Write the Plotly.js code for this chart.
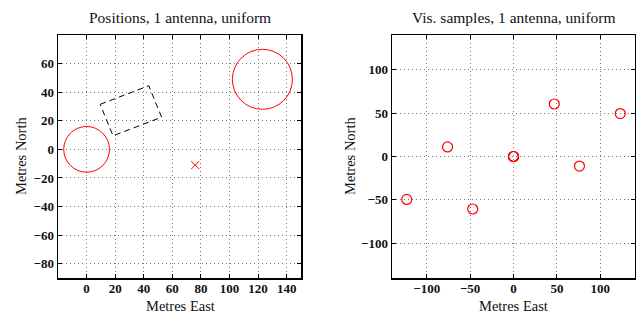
<!DOCTYPE html>
<html>
<head>
<meta charset="utf-8">
<script src="https://cdn.plot.ly/plotly-3.0.1.min.js"></script>
<style>html,body{margin:0;padding:0;background:#fff;}#chart{width:636px;height:313px;}</style>
</head>
<body>
<div id="chart"></div>
<script>
// ---- Data ----
// Antenna dishes (left plot): centres and radii in metres
const dishX = [0, 123];
const dishY = [0, 49];
const dishR = [16, 21];
// Single antenna position (red cross)
const crossX = [76];
const crossY = [-11];
// Dashed rectangle outline corners
const rectX = [9.5, 43.5, 52.5, 18.5, 9.5];
const rectY = [31.5, 44.5, 22.5, 9.5, 31.5];
// Visibility samples (right plot)
const visU = [0, 0, 0, 123, -123, 76, -76, 47, -47];
const visV = [0, 0, 0, 49.5, -49.5, -11, 11, 60.5, -60.5];
// Tick values
const leftXTicks = [0, 20, 40, 60, 80, 100, 120, 140];
const leftYTicks = [-80, -60, -40, -20, 0, 20, 40, 60];
const rightTicks = [-100, -50, 0, 50, 100];

const serif = "Liberation Serif, Times New Roman, serif";
const tickFont = {family: serif, size: 13, color: "#111", weight: "bold"};

function axisBase(domain, range, ticks, anchor, isX) {
  const ax = {
    domain: domain, range: range, anchor: anchor,
    tickmode: "array", tickvals: ticks,
    ticks: "inside", ticklen: 4, tickcolor: "#000",
    showline: true, linecolor: "#000", linewidth: 1.5, mirror: "ticks",
    showgrid: true, gridcolor: "#7a7a7a", gridwidth: 1, griddash: "1px,3px",
    zeroline: false, tickfont: tickFont, fixedrange: true
  };
  if (isX) ax.ticklabelstandoff = -2;
  return ax;
}

const traces = [
  {x: rectX, y: rectY, xaxis: "x", yaxis: "y", mode: "lines", type: "scatter",
   line: {color: "#000", width: 1, dash: "6px,4px"}, hoverinfo: "skip"},
  {x: crossX, y: crossY, xaxis: "x", yaxis: "y", mode: "markers", type: "scatter",
   marker: {symbol: "x-thin-open", size: 8, color: "#ff0000", line: {color: "#ff0000", width: 1}}},
  {x: visU, y: visV, xaxis: "x2", yaxis: "y2", mode: "markers", type: "scatter",
   marker: {symbol: "circle-open", size: 10, color: "#ff0000", line: {color: "#ff0000", width: 1.2}}}
];

const shapes = dishX.map((cx, i) => ({
  type: "circle", xref: "x", yref: "y",
  x0: cx - dishR[i], x1: cx + dishR[i], y0: dishY[i] - dishR[i], y1: dishY[i] + dishR[i],
  line: {color: "#ff0000", width: 1}
}));

const yDom = [1 - 278/313, 1 - 35/313];
const titleFont = {family: serif, size: 15.5, color: "#111"};
const labelFont = {family: serif, size: 14.5, color: "#111"};
const layout = {
  width: 636, height: 313,
  margin: {l: 0, r: 0, t: 0, b: 0},
  paper_bgcolor: "#fff", plot_bgcolor: "#fff",
  showlegend: false,
  xaxis: axisBase([58/636, 301/636], [-20, 150], leftXTicks, "y", true),
  yaxis: axisBase(yDom, [-90, 80], leftYTicks, "x", false),
  xaxis2: axisBase([392/636, 635/636], [-140, 140], rightTicks, "y2", true),
  yaxis2: axisBase(yDom, [-140, 140], rightTicks, "x2", false),
  shapes: shapes,
  annotations: [
    {text: "Positions, 1 antenna, uniform", xref: "paper", yref: "paper", x: 179.5/636, y: 1 - 17/313,
     showarrow: false, xanchor: "center", yanchor: "middle", font: titleFont},
    {text: "Vis. samples, 1 antenna, uniform", xref: "paper", yref: "paper", x: 513.5/636, y: 1 - 17/313,
     showarrow: false, xanchor: "center", yanchor: "middle", font: titleFont},
    {text: "Metres East", xref: "paper", yref: "paper", x: 180/636, y: 0,
     showarrow: false, xanchor: "center", yanchor: "bottom", yshift: -2, borderpad: 0, font: labelFont},
    {text: "Metres East", xref: "paper", yref: "paper", x: 513.5/636, y: 0,
     showarrow: false, xanchor: "center", yanchor: "bottom", yshift: -2, borderpad: 0, font: labelFont},
    {text: "Metres North", xref: "paper", yref: "paper", x: 21/636, y: 1 - 156/313, textangle: -90,
     showarrow: false, xanchor: "center", yanchor: "middle", font: labelFont},
    {text: "Metres North", xref: "paper", yref: "paper", x: 350/636, y: 1 - 156/313, textangle: -90,
     showarrow: false, xanchor: "center", yanchor: "middle", font: labelFont}
  ]
};

Plotly.newPlot("chart", traces, layout, {staticPlot: true, displayModeBar: false});
</script>
</body>
</html>
